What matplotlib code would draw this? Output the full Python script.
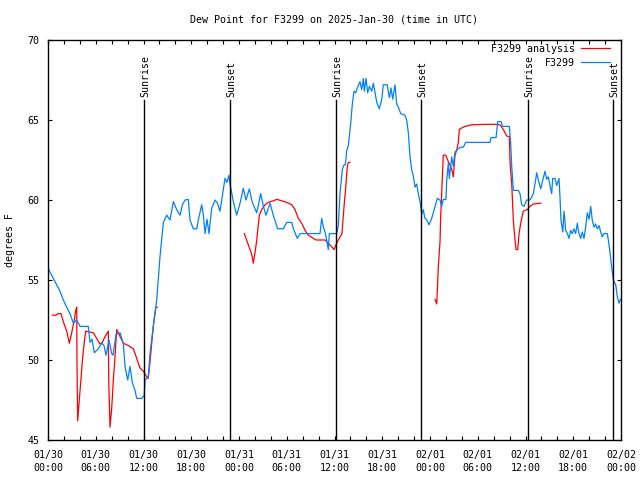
import numpy as np
import matplotlib
matplotlib.use("Agg")
import matplotlib.pyplot as plt
from matplotlib.ticker import MultipleLocator

# hours since 2025-01-30 00:00 UTC, dew point in degrees F
obs_hours = [0.04, 0.67, 1.09, 1.51, 1.92, 2.35, 2.76, 3.18, 3.61, 4.02, 5.06, 5.28, 5.53, 5.82,
             6.32, 6.75, 7.04, 7.29, 7.67, 8.0, 8.17, 8.55, 9.05, 9.46, 9.68, 10.02, 10.3, 10.59,
             10.93, 11.15, 11.77, 12.1, 12.19, 12.6, 12.82, 13.23, 13.66, 14.07, 14.49, 14.92,
             15.33, 15.75, 16.17, 16.59, 16.88, 17.22, 17.63, 17.84, 18.26, 18.69, 18.89, 19.31,
             19.52, 19.73, 19.98, 20.23, 20.57, 20.99, 21.3, 21.61, 21.83, 22.24, 22.49, 22.74,
             22.87, 23.29, 23.71, 24.13, 24.54, 24.88, 25.3, 25.6, 25.8, 26.23, 26.73, 27.06,
             27.39, 27.9, 28.31, 28.86, 29.57, 30.0, 30.62, 30.83, 31.33, 31.67, 34.18, 34.39,
             34.6, 34.81, 35.02, 35.22, 35.35, 36.28, 36.48, 36.69, 36.98, 37.2, 37.36, 37.54,
             37.74, 38.04, 38.24, 38.45, 38.66, 38.87, 39.2, 39.42, 39.62, 39.75, 39.96, 40.17,
             40.38, 40.68, 40.88, 41.09, 41.31, 41.63, 41.93, 42.13, 42.63, 42.89, 43.1, 43.31,
             43.6, 43.81, 44.02, 44.32, 44.86, 45.07, 45.28, 45.49, 45.7, 45.9, 46.12, 46.33,
             46.53, 46.75, 46.96, 47.16, 47.33, 47.58, 47.88, 48.21, 48.63, 48.92, 49.26, 49.47,
             49.67, 50.01, 50.1, 50.3, 50.43, 50.73, 50.93, 51.14, 51.56, 51.77, 52.19, 52.49,
             55.54, 55.67, 56.3, 56.51, 56.92, 57.14, 57.97, 58.14, 58.27, 58.47, 59.1, 59.31,
             59.52, 59.81, 60.15, 60.57, 60.98, 61.19, 61.41, 61.61, 61.91, 62.2, 62.45, 62.66,
             62.86, 63.08, 63.29, 63.42, 63.71, 63.92, 64.21, 64.34, 64.46, 64.68, 64.84, 65.05,
             65.26, 65.47, 65.68, 65.88, 66.09, 66.3, 66.51, 66.72, 66.94, 67.14, 67.35, 67.56,
             67.77, 67.98, 68.19, 68.39, 68.61, 68.82, 69.02, 69.24, 69.45, 69.65, 69.87, 70.28,
             70.41, 70.62, 70.83, 71.04, 71.34, 71.54, 71.75, 71.88, 72.0]
obs_dewpt = [55.7, 55.1, 54.7, 54.3, 53.75, 53.3, 52.9, 52.3, 52.5, 52.1, 52.1, 51.1, 51.3, 50.45,
             50.7, 51.05, 50.9, 50.3, 51.25, 50.4, 50.3, 51.6, 51.7, 51.05, 49.6, 48.75, 49.6, 48.6,
             48.1, 47.6, 47.6, 47.8, 48.75, 48.95, 50.4, 52.1, 53.75, 56.45, 58.6, 59.05,
             58.75, 59.9, 59.4, 59.05, 59.7, 60.0, 60.04, 58.75, 58.2, 58.2, 58.75, 59.7,
             59.05, 57.9, 58.8, 57.9, 59.5, 60.0, 59.8, 59.3, 60.0, 61.35, 61.1, 61.55,
             61.0, 59.9, 59.05, 59.8, 60.73, 60.0, 60.7, 60.0, 59.7, 59.2, 60.4, 59.6,
             59.05, 59.8, 59.05, 58.2, 58.2, 58.6, 58.6, 58.2, 57.6, 57.9, 57.9, 58.85,
             58.3, 58.0, 57.5, 56.9, 57.9, 57.9, 58.4, 60.4, 61.9, 62.2, 62.2, 63.1,
             63.4, 64.8, 66.0, 66.8, 66.7, 67.0, 67.4, 66.9, 67.6, 66.8, 67.6, 66.7,
             67.1, 66.8, 67.3, 66.7, 66.1, 65.7, 66.25, 67.2, 67.2, 66.4, 67.0, 66.3,
             67.2, 66.0, 65.8, 65.4, 65.3, 65.0, 64.2, 62.7, 61.9, 61.5, 60.8, 61.0,
             60.4, 59.9, 59.1, 59.4, 58.9, 58.75, 58.45, 58.85, 59.6, 60.1, 60.0, 59.6,
             60.04, 60.04, 61.25, 62.3, 61.35, 62.7, 62.1, 63.0, 63.2, 63.3, 63.3, 63.6,
             63.6, 63.9, 63.9, 64.9, 64.9, 64.6, 64.6, 63.5, 62.1, 60.6, 60.6, 60.4,
             59.7, 59.6, 60.0, 60.0, 60.4, 61.0, 61.7, 61.25, 60.7, 61.3, 61.8, 61.3,
             61.45, 60.9, 60.4, 61.35, 61.35, 60.9, 61.35, 60.1, 58.75, 58.0, 59.3, 58.1,
             57.9, 57.6, 58.1, 57.9, 58.2, 57.9, 58.55, 57.9, 57.6, 58.0, 57.6, 58.3,
             59.2, 58.8, 59.6, 58.75, 58.3, 58.5, 58.2, 58.4, 58.0, 57.7, 57.9, 57.9,
             57.5, 56.7, 55.8, 55.0, 54.7, 53.95, 53.55, 53.75, 53.8]

# analysis series, three separate runs
ana1_hours = [0.54, 1.0, 1.26, 1.63, 1.92, 2.35, 2.68, 2.98, 3.3, 3.48, 3.61, 3.64, 3.73, 3.93,
              4.15, 4.36, 4.56, 4.74, 5.69, 6.12, 6.53, 6.82, 7.16, 7.58, 7.63, 7.79, 8.0, 8.21,
              8.42, 8.63, 8.83, 9.46, 10.09, 10.72, 11.15, 11.56, 11.98, 12.4, 12.6, 12.82,
              13.03, 13.23, 13.45, 13.57, 13.73]
ana1_dewpt = [52.8, 52.8, 52.9, 52.9, 52.4, 51.8, 51.05, 51.7, 52.5, 53.1, 53.3, 49.8, 46.2, 47.5,
              48.85, 50.2, 51.1, 51.8, 51.7, 51.35, 51.0, 51.1, 51.45, 51.8, 48.75, 45.8, 46.95, 48.75,
              50.2, 51.9, 51.7, 51.05, 50.9, 50.7, 50.1, 49.5, 49.3, 48.95, 48.85, 49.9,
              51.05, 52.1, 52.95, 53.3, 53.3]
ana2_hours = [24.67, 25.17, 25.6, 25.8, 26.01, 26.23, 26.55, 26.85, 27.27, 27.68, 28.31, 28.74,
              29.37, 30.0, 30.62, 31.04, 31.45, 31.88, 32.3, 32.71, 33.14, 33.68, 34.81, 35.22,
              35.78, 35.94, 36.19, 36.48, 36.69, 36.94, 37.03, 37.2, 37.41, 37.61, 37.74, 37.95]
ana2_dewpt = [57.9, 57.2, 56.6, 56.05, 56.7, 57.5, 59.05, 59.4, 59.7, 59.85, 59.95, 60.04,
              59.95, 59.85, 59.7, 59.4, 58.85, 58.55, 58.1, 57.8, 57.67, 57.5, 57.5, 57.3,
              57.0, 56.9, 57.2, 57.5, 57.7, 57.9, 58.55, 59.6, 60.8, 62.1, 62.35, 62.35]
ana3_hours = [48.63, 48.84, 48.92, 49.04, 49.26, 49.34, 49.47, 49.6, 49.67, 49.97, 50.3, 50.6,
              50.85, 50.93, 51.14, 51.35, 51.56, 51.68, 51.98, 52.4, 53.24, 55.33, 56.17, 56.8,
              57.22, 57.64, 57.97, 58.06, 58.27, 58.47, 58.68, 58.81, 59.02, 59.19, 59.4, 59.52,
              59.72, 60.23, 60.57, 60.98, 61.91]
ana3_dewpt = [53.8, 53.5, 54.3, 55.8, 57.4, 58.95, 60.4, 61.98, 62.8, 62.8, 62.4, 62.1,
              61.7, 61.45, 62.8, 63.1, 63.6, 64.4, 64.5, 64.6, 64.7, 64.73, 64.73, 64.7,
              64.4, 64.0, 63.96, 62.3, 61.0, 58.75, 57.5, 56.9, 56.9, 57.9, 58.55, 58.85,
              59.3, 59.4, 59.6, 59.75, 59.8]

sun_hours = [12.1, 22.87, 36.25, 46.91, 60.36, 71.04]
sun_names = ["Sunrise", "Sunset", "Sunrise", "Sunset", "Sunrise", "Sunset"]

tick_hours = list(range(0, 73, 6))
tick_labels = ["01/30\n00:00", "01/30\n06:00", "01/30\n12:00", "01/30\n18:00",
               "01/31\n00:00", "01/31\n06:00", "01/31\n12:00", "01/31\n18:00",
               "02/01\n00:00", "02/01\n06:00", "02/01\n12:00", "02/01\n18:00",
               "02/02\n00:00"]

plt.rcParams['font.family'] = ['DejaVu Sans Mono']
fs = 7.2

fig = plt.figure(figsize=(6.4, 4.8), dpi=100)
ax = fig.add_axes([48 / 640, 40 / 480, 573 / 640, 400 / 480])

red = '#ff0000'
blue = '#0080ff'
ax.plot(ana1_hours, ana1_dewpt, color=red, lw=0.9, label='F3299 analysis')
ax.plot(ana2_hours, ana2_dewpt, color=red, lw=0.9)
ax.plot(ana3_hours, ana3_dewpt, color=red, lw=0.9)
ax.plot(obs_hours, obs_dewpt, color=blue, lw=0.9, label='F3299')

for h, name in zip(sun_hours, sun_names):
    ax.plot([h, h], [45, 66.25], color='black', lw=1)
    ax.text(h + 0.15, 66.45, name, rotation=90, ha='center', va='bottom', fontsize=fs)

ax.set_xlim(0, 72)
ax.set_ylim(45, 70)
ax.set_xticks(tick_hours)
ax.set_xticklabels(tick_labels, fontsize=fs, linespacing=1.35)
ax.xaxis.set_minor_locator(MultipleLocator(2))
ax.set_yticks([45, 50, 55, 60, 65, 70])
ax.set_yticklabels(['45', '50', '55', '60', '65', '70'], fontsize=fs)
ax.tick_params(which='both', direction='in', length=3, width=0.8,
               top=True, right=True, pad=6)
ax.tick_params(axis='x', which='major', pad=7.5)
for s in ax.spines.values():
    s.set_linewidth(1)

ax.set_ylabel('degrees F', fontsize=fs)
ax.yaxis.set_label_coords(-0.057, 0.5)
ax.set_title('Dew Point for F3299 on 2025-Jan-30 (time in UTC)', fontsize=fs, pad=12.5)

ax.legend(loc='upper right', frameon=False, fontsize=fs, markerfirst=False,
          handlelength=2.9, handletextpad=0.6, labelspacing=0.4,
          borderaxespad=0.0, borderpad=0.0, bbox_to_anchor=(0.981, 0.99))

fig.savefig('out.png', dpi=100)
